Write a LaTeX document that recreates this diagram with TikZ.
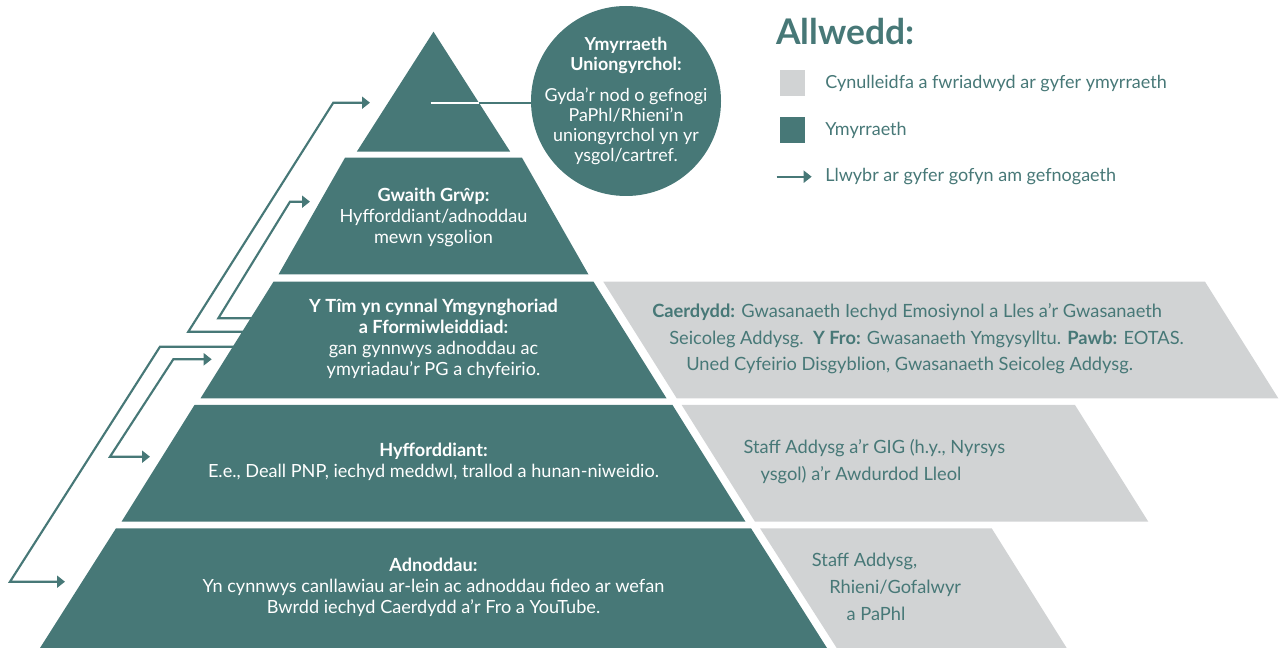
\documentclass[tikz,border=0pt]{standalone}
\usepackage{fontspec}
\setmainfont{Lato}
\usetikzlibrary{arrows.meta, positioning}
\definecolor{pyrteal}{HTML}{477877}
\definecolor{audgrey}{HTML}{D1D3D4}

\begin{document}
\begin{tikzpicture} [
						x=0.75pt, y=-0.75pt,
						>={Triangle[length=6pt, width=9pt]},
						tier/.style={fill=pyrteal},
						band/.style={fill=audgrey},
						tiertext/.style={text=white, align=center, inner sep=0pt, font=\fontsize{13.6}{15.75}\selectfont},
						bandtext/.style={text=pyrteal, align=left, anchor=west, inner sep=0pt, font=\fontsize{13.7}{20}\selectfont},
						keytext/.style={text=pyrteal, anchor=west, inner sep=0pt, font=\fontsize{13.5}{15}\selectfont},
						keysq/.style={minimum size=19.3pt, inner sep=0pt},
						route/.style={draw=pyrteal, line width=1.6pt, ->}
					]

\useasboundingbox (0,0) rectangle (1279,648);

% routes for asking for support
\coordinate (out1) at (250,331.7);
\coordinate (in1) at (370,102.7);
\coordinate (out2) at (255,318.3);
\coordinate (in2) at (310,201.7);
\coordinate (out5) at (240,346.7);
\coordinate (in5) at (65,581.7);
\coordinate (in3) at (211.7,359.3);
\coordinate (in4) at (150,456.7);

\draw[route] (out1) -- (188.3,331.7) -- (333.3,102.7) -- (in1);
\draw[route] (out2) -- (218.3,318.3) -- (290,201.7) -- (in2);
\draw[route] (out5) -- (160,346.7) -- (10,581.7) -- (in5);
\draw[route, <->] (in3) -- (173.3,359.3) -- (110,456.7) -- (in4);

% pyramid
\foreach \yt/\yb/\wt/\wb in {31.7/151.7/0/76.7, 157.7/274.5/88.5/155, 281.7/398.3/160/233, 405/521.7/239/312, 528.3/648/317.5/393.5}
	\fill[tier] ({433.5-\wt},\yt) -- ({433.5+\wt},\yt) -- ({433.5+\wb},\yb) -- ({433.5-\wb},\yb) -- cycle;

% audiences
\fill[band] (603.3,281.7) -- (1205,281.7) -- (1278.3,398.3) -- (676.7,398.3) -- cycle;
\fill[band] (681.7,405) -- (1075,405) -- (1148.3,521.7) -- (755,521.7) -- cycle;
\fill[band] (760,528.3) -- (991.7,528.3) -- (1066.7,648) -- (836.7,648) -- cycle;

\node (direct) [circle, fill=pyrteal, minimum size=142.5pt, inner sep=0pt] at (626,101) {};
\node (directtext) [tiertext, font=\fontsize{13.4}{15}\selectfont] at (direct)
	{\textbf{Ymyrraeth}\\\textbf{Uniongyrchol:}\\[8.8pt]Gyda’r nod o gefnogi\\PaPhl/Rhieni’n\\uniongyrchol yn yr\\ysgol/cartref.};

\coordinate (apex) at (430.7,102.7);
\coordinate (apexedge) at (478.5,102.7);
\draw[white, line width=1.5pt] (apex) -- (apexedge);
\draw[pyrteal, line width=1.5pt] (apexedge) -- (apexedge -| direct.west);

\node (grwp) [tiertext] at (433.5,217) {\textbf{Gwaith Grŵp:}\\Hyfforddiant/adnoddau\\mewn ysgolion};
\node (tim) [tiertext] at (433.5,339) {\textbf{Y Tîm yn cynnal Ymgynghoriad}\\\textbf{a Fformiwleiddiad:}\\gan gynnwys adnoddau ac\\ymyriadau’r PG a chyfeirio.};
\node (hyff) [tiertext] at (433.5,462) {\textbf{Hyfforddiant:}\\E.e., Deall PNP, iechyd meddwl, trallod a hunan-niweidio.};
\node (adn) [tiertext] at (433.5,587) {\textbf{Adnoddau:}\\Yn cynnwys canllawiau ar-lein ac adnoddau fideo ar wefan\\Bwrdd iechyd Caerdydd a’r Fro a YouTube.};

\node (aud3) [bandtext] at (652,339) {\textbf{Caerdydd:} Gwasanaeth Iechyd Emosiynol a Lles a’r Gwasanaeth\\\hspace*{12.75pt}Seicoleg Addysg.\ \ \textbf{Y Fro:} Gwasanaeth Ymgysylltu. \textbf{Pawb:} EOTAS.\\\hspace*{25.5pt}Uned Cyfeirio Disgyblion, Gwasanaeth Seicoleg Addysg.};
\node (aud4) [bandtext] at (743.3,461.5) {Staff Addysg a’r GIG (h.y., Nyrsys\\\hspace*{12.75pt}ysgol) a’r Awdurdod Lleol};
\node (aud5) [bandtext] at (811.7,586.7) {Staff Addysg,\\\hspace*{13pt}Rhieni/Gofalwyr\\\hspace*{26pt}a PaPhl};

% key
\node (keytitle) [anchor=base west, inner sep=0pt, text=pyrteal, font=\fontsize{26.5}{30}\selectfont\bfseries] at (776,45) {Allwedd:};
\node (keyaud) [keytext] at (825,83.3) {Cynulleidfa a fwriadwyd ar gyfer ymyrraeth};
\node (keyint) [keytext] at (825,130) {Ymyrraeth};
\node (keyroute) [keytext] at (825,176.7) {Llwybr ar gyfer gofyn am gefnogaeth};
\node (sqaud) [keysq, fill=audgrey, left=14.5pt of keyaud] {};
\node (sqint) [keysq, fill=pyrteal, left=14.5pt of keyint] {};
\coordinate (keystart) at (776.7,176.7);
\draw[route] (keystart) -- ([xshift=-10pt]keyroute.west);
\end{tikzpicture}
\end{document}
